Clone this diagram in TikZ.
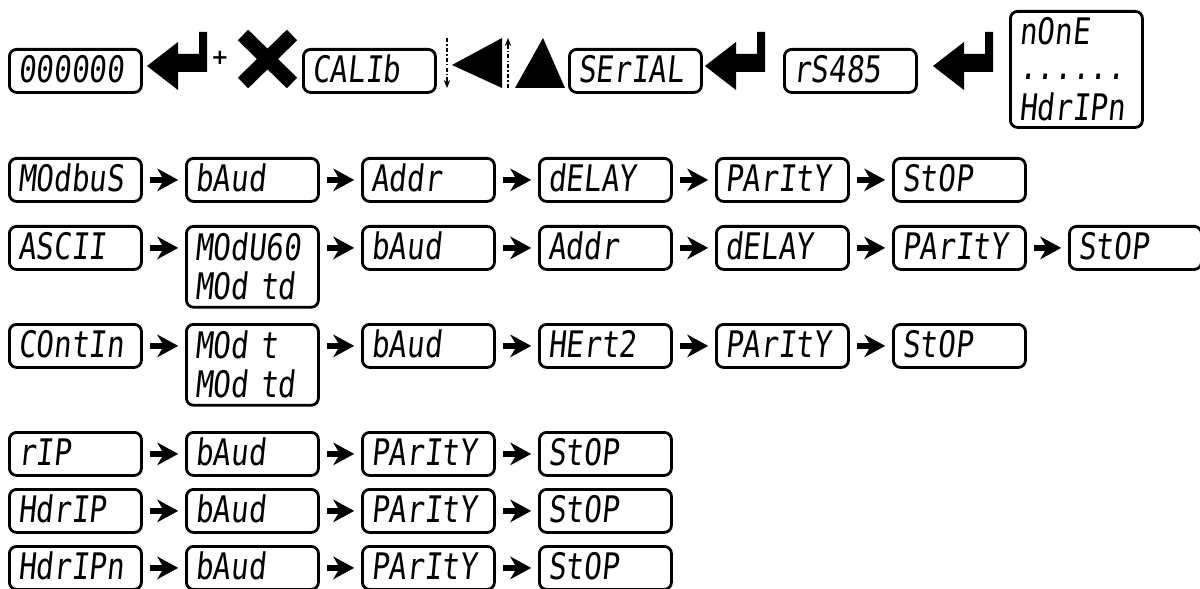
\documentclass[tikz,border=0pt]{standalone}
\usepackage{fontspec}
\newfontfamily\segfont[FakeSlant=0.1,FakeStretch=0.8]{DejaVu Sans Mono}
\newfontfamily\keyfont{DejaVu Sans}
\usetikzlibrary{arrows.meta}

\begin{document}
\begin{tikzpicture}[x=0.025cm,y=-0.025cm,line join=round,
	lcdbase/.style={draw,line width=2pt,rounded corners=0.18cm,anchor=north west,
		text width=2.86cm,align=left,inner xsep=0.22cm,inner ysep=0pt,
		font=\segfont\fontsize{26}{27.7}\selectfont},
	lcd/.style={lcdbase,minimum height=1.075cm,text height=19pt,text depth=2pt},
	lcdtwo/.style={lcdbase,minimum height=2.02cm},
	flow/.style={line width=4pt,-{Stealth[length=5.2mm,width=5.6mm,inset=1.6mm]},
		shorten <=0.19cm,shorten >=0.17cm}]
	\useasboundingbox (0,0) rectangle (1200,589);
	
	\tikzset{enter/.pic={%return key
			\fill (0,0)--(31,-24)--(31,-12)--(52,-12)--(52,-34)--(60,-34)--(60,6)--(31,6)--(31,24)--cycle;
	}}
	
	%%%% top line: keys
	\node[lcd] (disp) at (8,48) {000000};
	\path (147,66) pic{enter};
	\node[font=\keyfont\bfseries\fontsize{15}{15}\selectfont,inner sep=0pt] (plus) at (220,58) {+};
	\draw[line width=10.5pt] (243,35)--(292,83) (243,83)--(292,35); %esc
	\node[lcd] (calib) at (302,48) {CALIb};
	\draw[line width=0.9pt,dash pattern=on 3pt off 1.5pt on 1pt off 1.5pt,-{Stealth[length=2mm,width=1.6mm]}] (447,38)--(447,88);
	\fill (452,65)--(502,38)--(502,88)--cycle; %left
	\draw[line width=0.9pt,dash pattern=on 3pt off 1.5pt on 1pt off 1.5pt,-{Stealth[length=2mm,width=1.6mm]}] (508,88)--(508,38);
	\fill (543,38)--(515,88)--(565,88)--cycle; %up
	\node[lcd] (serial) at (568,48) {SErIAL};
	\path (705,66) pic{enter};
	\node[lcd] (rsbus) at (783,48) {rS485};
	\path (933,66) pic{enter};
	\node[lcdbase,minimum height=2.9cm] (proto) at (1009,10) {nOnE\\[-2.8pt]......\\[1.5pt]HdrIPn};
	
	%%%% modbus
	\node[lcd] (mbus) at (8,157) {MOdbuS};
	\node[lcd] (mbaud) at (185,157) {bAud};
	\node[lcd] (maddr) at (361,157) {Addr};
	\node[lcd] (mdelay) at (538,157) {dELAY};
	\node[lcd] (mpar) at (715,157) {PArItY};
	\node[lcd] (mstop) at (892,157) {StOP};
	\foreach \a/\b in {mbus/mbaud,mbaud/maddr,maddr/mdelay,mdelay/mpar,mpar/mstop}
	\draw[flow] (\a)--(\b);
	
	%%%% ascii
	\node[lcd] (asc) at (8,225) {ASCII};
	\node[lcdtwo] (amode) at (185,225) {MOdU60\\MOd td};
	\node[lcd] (abaud) at (361,225) {bAud};
	\node[lcd] (aaddr) at (538,225) {Addr};
	\node[lcd] (adelay) at (715,225) {dELAY};
	\node[lcd] (apar) at (892,225) {PArItY};
	\node[lcd] (astop) at (1068,225) {StOP};
	\draw[flow] (asc)--(asc-|amode.west);
	\draw[flow] (amode.east|-abaud)--(abaud);
	\foreach \a/\b in {abaud/aaddr,aaddr/adelay,adelay/apar,apar/astop}
	\draw[flow] (\a)--(\b);
	
	%%%% continuous
	\node[lcd] (cont) at (8,323) {COntIn};
	\node[lcdtwo] (cmode) at (185,323) {MOd t\\MOd td};
	\node[lcd] (cbaud) at (361,323) {bAud};
	\node[lcd] (chertz) at (538,323) {HErt2};
	\node[lcd] (cpar) at (715,323) {PArItY};
	\node[lcd] (cstop) at (892,323) {StOP};
	\draw[flow] (cont)--(cont-|cmode.west);
	\draw[flow] (cmode.east|-cbaud)--(cbaud);
	\foreach \a/\b in {cbaud/chertz,chertz/cpar,cpar/cstop}
	\draw[flow] (\a)--(\b);
	
	%%%% rip, hdrip, hdripn
	\node[lcd] (rip) at (8,431) {rIP};
	\node[lcd] (rbaud) at (185,431) {bAud};
	\node[lcd] (rpar) at (361,431) {PArItY};
	\node[lcd] (rstop) at (538,431) {StOP};
	\node[lcd] (hip) at (8,488) {HdrIP};
	\node[lcd] (hbaud) at (185,488) {bAud};
	\node[lcd] (hpar) at (361,488) {PArItY};
	\node[lcd] (hstop) at (538,488) {StOP};
	\node[lcd] (hipn) at (8,545) {HdrIPn};
	\node[lcd] (nbaud) at (185,545) {bAud};
	\node[lcd] (npar) at (361,545) {PArItY};
	\node[lcd] (nstop) at (538,545) {StOP};
	\foreach \a/\b in {rip/rbaud,rbaud/rpar,rpar/rstop,hip/hbaud,hbaud/hpar,hpar/hstop,hipn/nbaud,nbaud/npar,npar/nstop}
	\draw[flow] (\a)--(\b);
\end{tikzpicture}
\end{document}
